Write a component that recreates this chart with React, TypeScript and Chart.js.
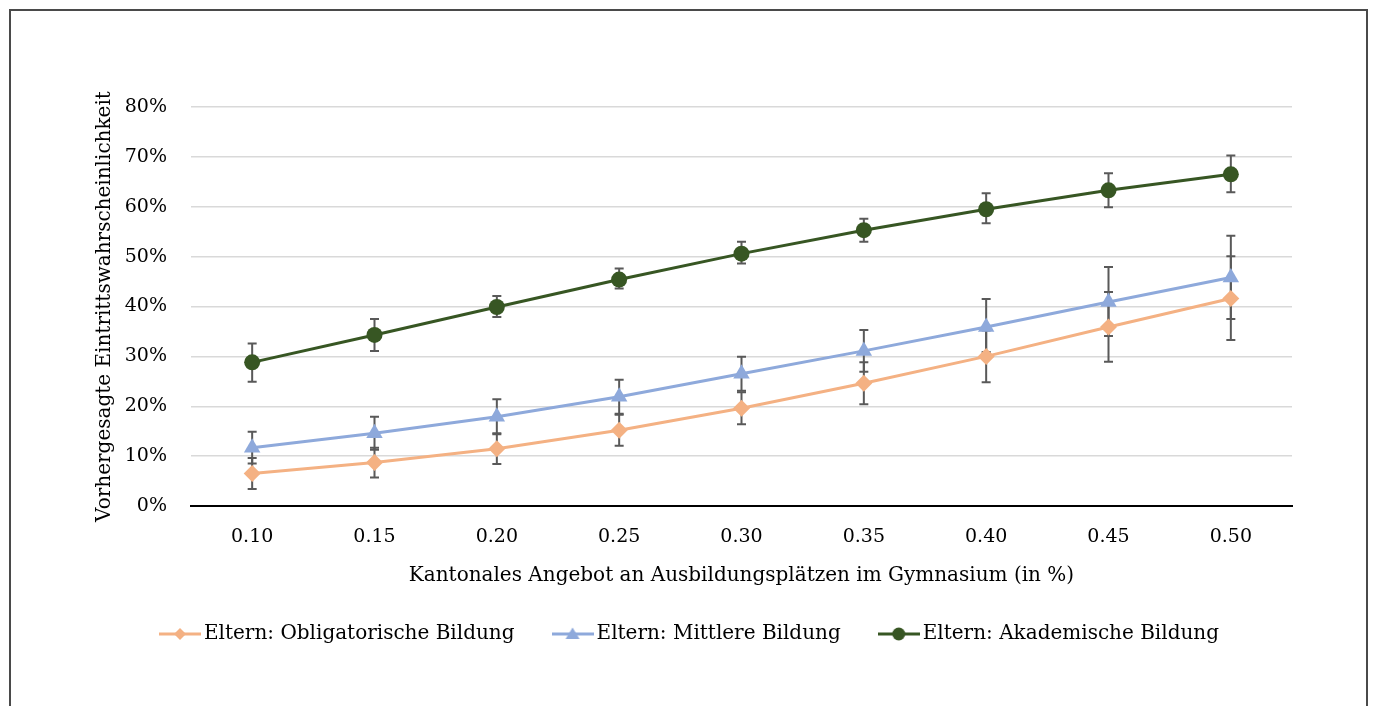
import React, { useEffect, useRef } from 'react';
import { Chart, registerables } from 'chart.js';

Chart.register(...registerables);

// ---- data (percent) ----
const categories = ['0.10', '0.15', '0.20', '0.25', '0.30', '0.35', '0.40', '0.45', '0.50'];

const obligValues = [6.5, 8.7, 11.5, 15.2, 19.6, 24.6, 30.0, 35.9, 41.6];
const obligLow = [3.4, 5.7, 8.4, 12.1, 16.4, 20.4, 24.8, 28.9, 33.3];
const obligHigh = [9.6, 11.7, 14.6, 18.3, 22.8, 28.8, 35.2, 42.9, 50.1];

const mittelValues = [11.7, 14.6, 17.9, 21.9, 26.5, 31.1, 35.9, 40.9, 45.8];
const mittelLow = [8.5, 11.3, 14.4, 18.5, 23.1, 26.9, 30.9, 34.1, 37.5];
const mittelHigh = [14.9, 17.9, 21.4, 25.3, 29.9, 35.3, 41.5, 47.9, 54.2];

const akadValues = [28.8, 34.3, 39.9, 45.4, 50.6, 55.3, 59.5, 63.3, 66.5];
const akadLow = [24.9, 31.1, 37.9, 43.6, 48.6, 53.0, 56.7, 59.9, 62.9];
const akadHigh = [32.6, 37.5, 42.1, 47.6, 53.0, 57.6, 62.7, 66.7, 70.3];

const seriesLabels = [
  'Eltern: Obligatorische Bildung',
  'Eltern: Mittlere Bildung',
  'Eltern: Akademische Bildung',
];
const yMin = 0;
const yMax = 80;
const yStep = 10;
const xTitle = 'Kantonales Angebot an Ausbildungsplätzen im Gymnasium (in %)';
const yTitle = 'Vorhergesagte Eintrittswahrscheinlichkeit';

const COLORS = ['#F4B183', '#8EA9DB', '#375623'];
const FONT = "'DejaVu Serif', 'Liberation Serif', serif";

const errLows = [obligLow, mittelLow, akadLow];
const errHighs = [obligHigh, mittelHigh, akadHigh];

function makeLegendIcon(color: string, shape: string): HTMLCanvasElement {
  const c = document.createElement('canvas');
  c.width = 42;
  c.height = 20;
  const ctx = c.getContext('2d')!;
  ctx.strokeStyle = color;
  ctx.lineWidth = 3;
  ctx.beginPath();
  ctx.moveTo(0, 10);
  ctx.lineTo(42, 10);
  ctx.stroke();
  ctx.fillStyle = color;
  ctx.beginPath();
  if (shape === 'diamond') {
    ctx.moveTo(21, 4);
    ctx.lineTo(27, 10);
    ctx.lineTo(21, 16);
    ctx.lineTo(15, 10);
  } else if (shape === 'triangle') {
    ctx.moveTo(21, 3.5);
    ctx.lineTo(28, 15);
    ctx.lineTo(14, 15);
  } else {
    ctx.arc(21, 10, 6.5, 0, Math.PI * 2);
  }
  ctx.closePath();
  ctx.fill();
  return c;
}

const errorBarPlugin = {
  id: 'errorBars',
  beforeDatasetsDraw(chart: any) {
    const ctx = chart.ctx;
    const yScale = chart.scales.y;
    ctx.save();
    ctx.strokeStyle = '#595959';
    ctx.lineWidth = 2;
    chart.data.datasets.forEach((_ds: any, i: number) => {
      const meta = chart.getDatasetMeta(i);
      errLows[i].forEach((lo: number, j: number) => {
        const pt = meta.data[j];
        if (!pt) return;
        const x = pt.x;
        const yl = yScale.getPixelForValue(lo);
        const yh = yScale.getPixelForValue(errHighs[i][j]);
        ctx.beginPath();
        ctx.moveTo(x, yl);
        ctx.lineTo(x, yh);
        ctx.moveTo(x - 4.5, yl);
        ctx.lineTo(x + 4.5, yl);
        ctx.moveTo(x - 4.5, yh);
        ctx.lineTo(x + 4.5, yh);
        ctx.stroke();
      });
    });
    ctx.restore();
  },
};

export default function App() {
  const canvasRef = useRef<HTMLCanvasElement | null>(null);

  useEffect(() => {
    if (!canvasRef.current) return;
    const icons = [
      makeLegendIcon(COLORS[0], 'diamond'),
      makeLegendIcon(COLORS[1], 'triangle'),
      makeLegendIcon(COLORS[2], 'circle'),
    ];
    const chart = new Chart(canvasRef.current, {
      type: 'line',
      data: {
        labels: categories,
        datasets: [
          {
            label: seriesLabels[0],
            data: obligValues,
            borderColor: COLORS[0],
            backgroundColor: COLORS[0],
            borderWidth: 3,
            pointStyle: 'rectRot',
            pointRadius: 8.5,
            pointBorderWidth: 0,
            tension: 0,
          },
          {
            label: seriesLabels[1],
            data: mittelValues,
            borderColor: COLORS[1],
            backgroundColor: COLORS[1],
            borderWidth: 3,
            pointStyle: 'triangle',
            pointRadius: 9.5,
            pointBorderWidth: 0,
            tension: 0,
          },
          {
            label: seriesLabels[2],
            data: akadValues,
            borderColor: COLORS[2],
            backgroundColor: COLORS[2],
            borderWidth: 3,
            pointStyle: 'circle',
            pointRadius: 8,
            pointBorderWidth: 0,
            tension: 0,
          },
        ],
      },
      options: {
        responsive: false,
        animation: false,
        layout: { padding: { top: 96, left: 82, right: 74, bottom: 52 } },
        plugins: {
          tooltip: { enabled: false },
          legend: {
            position: 'bottom',
            labels: {
              usePointStyle: true,
              pointStyleWidth: 28,
              padding: 44,
              color: '#000',
              font: { family: FONT, size: 20 },
              generateLabels: (ch: any) => {
                const items = Chart.defaults.plugins.legend.labels.generateLabels(ch);
                return items.map((it: any, i: number) => ({ ...it, pointStyle: icons[i] }));
              },
            },
          },
        },
        scales: {
          x: {
            offset: true,
            grid: { display: false, drawTicks: false },
            border: { display: true, color: '#000', width: 2 },
            ticks: { color: '#000', padding: 20, font: { family: FONT, size: 19 } },
            title: {
              display: true,
              text: xTitle,
              color: '#000',
              font: { family: FONT, size: 20 },
              padding: { top: 0, bottom: -8 },
            },
            afterFit: (s: any) => {
              s.height = 74;
            },
          },
          y: {
            min: yMin,
            max: yMax,
            grid: {
              drawTicks: false,
              color: (c: any) => (c.tick && c.tick.value === 0 ? 'rgba(0,0,0,0)' : '#d9d9d9'),
              lineWidth: 1.5,
            },
            border: { display: false },
            ticks: {
              stepSize: yStep,
              color: '#000',
              padding: 24,
              font: { family: FONT, size: 19 },
              callback: (v: any) => `${v}%`,
            },
            title: {
              display: true,
              text: yTitle,
              color: '#000',
              font: { family: FONT, size: 20 },
              padding: { top: 0, bottom: 0 },
            },
            afterFit: (s: any) => {
              s.width = 98;
            },
          },
        },
      },
      plugins: [errorBarPlugin],
    });
    return () => chart.destroy();
  }, []);

  return (
    <div
      style={{
        position: 'fixed',
        left: 9,
        top: 9,
        width: 1359,
        height: 720,
        boxSizing: 'border-box',
        border: '2px solid #4a4a4a',
        background: '#fff',
      }}
    >
      <canvas
        ref={canvasRef}
        width={1355}
        height={695}
        style={{ position: 'absolute', left: 0, top: 0, width: 1355, height: 695 }}
      />
    </div>
  );
}
